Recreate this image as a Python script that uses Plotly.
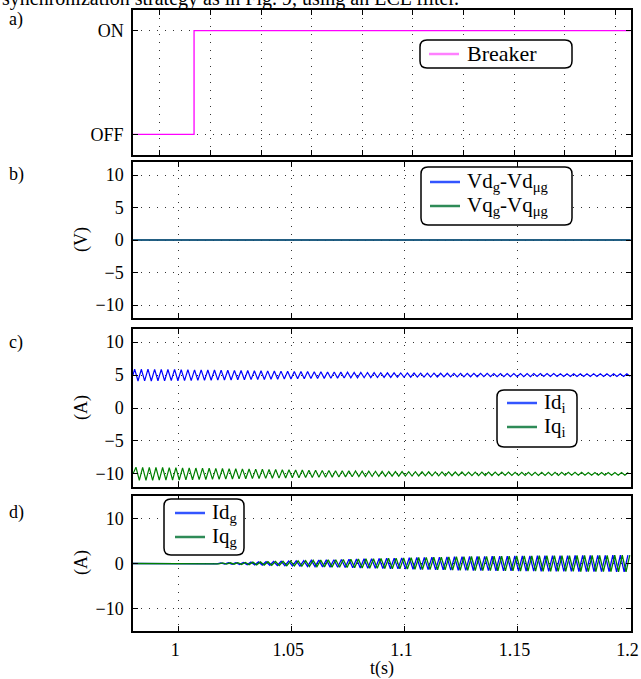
import numpy as np
import plotly.graph_objects as go

W, H = 641, 679
FONT = "Liberation Serif, Times New Roman, serif"

# ---------------- data ----------------
T_START, T_END = 0.98, 1.2
# a) breaker
BRK_T = [0.98, 1.007, 1.007, 1.2]
BRK_V = [0, 0, 1, 1]
# b) voltage differences (flat zero)
VD_T = [0.98, 1.2]
VD_V = [0.0, 0.0]
VQ_T = [0.98, 1.2]
VQ_V = [0.0, 0.0]
# c) inverter currents: mean values and per-cycle oscillation amplitudes
IDI_MEAN = 5.0
IQI_MEAN = -10.0
IC_FREQ = 340.0
IDI_AMP = [0.90, 0.88, 0.90, 0.86, 0.87, 0.85, 0.86, 0.83, 0.84, 0.80, 0.80, 0.78, 0.77, 0.75,
           0.74, 0.72, 0.70, 0.69, 0.67, 0.66, 0.64, 0.62, 0.60, 0.58, 0.56, 0.55, 0.53, 0.51,
           0.50, 0.48, 0.46, 0.45, 0.43, 0.42, 0.40, 0.39, 0.37, 0.36, 0.35, 0.34, 0.33, 0.32,
           0.31, 0.30, 0.30, 0.29, 0.28, 0.28, 0.27, 0.27, 0.26, 0.26, 0.25, 0.25, 0.24, 0.24,
           0.24, 0.23, 0.23, 0.23, 0.22, 0.22, 0.22, 0.22, 0.21, 0.21, 0.21, 0.21, 0.20, 0.20,
           0.20, 0.20, 0.20, 0.20, 0.20]
IQI_AMP = [1.00, 0.98, 0.99, 0.96, 0.96, 0.94, 0.94, 0.91, 0.90, 0.88, 0.87, 0.85, 0.83, 0.81,
           0.79, 0.77, 0.75, 0.73, 0.71, 0.69, 0.67, 0.65, 0.63, 0.61, 0.59, 0.57, 0.55, 0.53,
           0.51, 0.50, 0.48, 0.46, 0.45, 0.43, 0.42, 0.40, 0.39, 0.38, 0.36, 0.35, 0.34, 0.33,
           0.32, 0.31, 0.31, 0.30, 0.29, 0.29, 0.28, 0.28, 0.27, 0.27, 0.26, 0.26, 0.25, 0.25,
           0.25, 0.24, 0.24, 0.24, 0.23, 0.23, 0.23, 0.23, 0.22, 0.22, 0.22, 0.22, 0.21, 0.21,
           0.21, 0.21, 0.21, 0.21, 0.21]
# d) grid currents: oscillation begins after breaker closes
IG_START = 1.008
IG_FREQ = 300.0
IDG_AMP = [0.02, 0.05, 0.08, 0.12, 0.16, 0.20, 0.25, 0.30, 0.35, 0.40, 0.45, 0.50, 0.55, 0.60,
           0.65, 0.70, 0.75, 0.80, 0.85, 0.90, 0.95, 1.00, 1.04, 1.08, 1.12, 1.16, 1.20, 1.24,
           1.28, 1.32, 1.36, 1.40, 1.43, 1.46, 1.49, 1.52, 1.55, 1.57, 1.59, 1.61, 1.63, 1.65,
           1.67, 1.69, 1.70, 1.72, 1.73, 1.75, 1.76, 1.77, 1.78, 1.79, 1.80, 1.81, 1.82, 1.83,
           1.84, 1.85]
IQG_AMP = IDG_AMP

# tick labels
A_TICKVALS = [0, 1]
A_TICKTEXT = ["OFF", "ON"]
A_XGRID = [0.9916, 1.0142, 1.0366, 1.059, 1.0814, 1.1038, 1.1262, 1.1486, 1.171, 1.1934]
X_TICKS = [1.0, 1.05, 1.1, 1.15, 1.2]
X_TICKTEXT = ["1", "1.05", "1.1", "1.15", "1.2"]
BC_TICKS = [-10, -5, 0, 5, 10]
D_TICKS = [-10, 0, 10]

BLUE = "#0000ff"
GREEN = "#008000"
MAGENTA = "#ff00ff"


def osc(t0, freq, mean, amps, shift=0.0, t_before=None):
    """Zig-zag through the extremes of each cycle."""
    p = 1.0 / freq
    ts, vs = [], []
    if t_before is not None:
        ts.append(t_before)
        vs.append(mean)
    ts.append(t0)
    vs.append(mean)
    for k, a in enumerate(amps):
        base = t0 + k * p + shift * p
        ts += [base + p / 4, base + 3 * p / 4]
        vs += [mean + a, mean - a]
    ts = np.array(ts)
    vs = np.array(vs)
    m = ts <= T_END
    return ts[m], vs[m]


def px(x):
    return x / W


def py(y):
    return 1 - y / H


fig = go.Figure()

# a)
fig.add_trace(go.Scatter(x=BRK_T, y=BRK_V, mode="lines", line=dict(color=MAGENTA, width=1.3),
                         xaxis="x", yaxis="y", showlegend=False, name="Breaker"))
# b)
fig.add_trace(go.Scatter(x=VD_T, y=VD_V, mode="lines", line=dict(color=BLUE, width=1.3),
                         xaxis="x2", yaxis="y2", showlegend=False))
fig.add_trace(go.Scatter(x=VQ_T, y=VQ_V, mode="lines", line=dict(color="#1a6a5a", width=1.3),
                         xaxis="x2", yaxis="y2", showlegend=False))
# c)
t1, v1 = osc(T_START, IC_FREQ, IDI_MEAN, IDI_AMP)
t2, v2 = osc(T_START, IC_FREQ, IQI_MEAN, IQI_AMP, shift=0.2)
fig.add_trace(go.Scatter(x=t1, y=v1, mode="lines", line=dict(color=BLUE, width=1.2),
                         xaxis="x3", yaxis="y3", showlegend=False))
fig.add_trace(go.Scatter(x=t2, y=v2, mode="lines", line=dict(color=GREEN, width=1.2),
                         xaxis="x3", yaxis="y3", showlegend=False))
# d)
t3, v3 = osc(IG_START, IG_FREQ, 0.0, IDG_AMP, t_before=T_START)
t4, v4 = osc(IG_START, IG_FREQ, 0.0, IQG_AMP, shift=0.25, t_before=T_START)
fig.add_trace(go.Scatter(x=t3, y=v3, mode="lines", line=dict(color=BLUE, width=1.3),
                         xaxis="x4", yaxis="y4", showlegend=False))
fig.add_trace(go.Scatter(x=t4, y=v4, mode="lines", line=dict(color=GREEN, width=1.3),
                         xaxis="x4", yaxis="y4", showlegend=False))

X0, X1 = 133, 631
PANELS = [(10, 155), (162, 318), (329, 487), (496, 631)]

grid = dict(showgrid=True, gridcolor="#333333", gridwidth=1, griddash="1px,7px")
axis_common = dict(showline=True, linecolor="black", linewidth=1.5, mirror="ticks",
                   ticks="inside", ticklen=5, tickcolor="black", zeroline=False, automargin=False,
                   tickfont=dict(family=FONT, size=18, color="black"), **grid)

layout = dict(width=W, height=H, margin=dict(l=0, r=0, t=0, b=0, autoexpand=False),
              plot_bgcolor="white", paper_bgcolor="white", font=dict(family=FONT, color="black"))

yranges = [[-0.2, 1.2], [-12, 12], [-12, 12], [-15, 15]]
for i, (top, bot) in enumerate(PANELS):
    sfx = "" if i == 0 else str(i + 1)
    xa = dict(domain=[px(X0), px(X1)], range=[T_START, T_END + 0.0002], anchor="y" + sfx,
              tickvals=X_TICKS, ticktext=X_TICKTEXT, showticklabels=(i == 3),
              ticklabelstandoff=2, ticklabelshift=-3, **axis_common)
    if i == 0:
        xa["tickvals"] = A_XGRID
    ya = dict(domain=[py(bot), py(top)], range=yranges[i], anchor="x" + sfx,
              ticklabelstandoff=4, **axis_common)
    if i == 0:
        ya.update(tickvals=A_TICKVALS, ticktext=A_TICKTEXT)
    elif i in (1, 2):
        ya.update(tickvals=BC_TICKS)
    else:
        ya.update(tickvals=D_TICKS)
    layout["xaxis" + sfx] = xa
    layout["yaxis" + sfx] = ya

fig.update_layout(**layout)

ann = []
# caption fragment at the top (cut off)
ann.append(dict(text="synchronization strategy as in Fig. 9, using an LCL filter.", x=px(0), y=py(-2),
                xref="paper", yref="paper", xanchor="left", yanchor="middle", showarrow=False,
                font=dict(family=FONT, size=20)))
for lab, yy in [("a)", 19), ("b)", 175), ("c)", 342), ("d)", 512)]:
    ann.append(dict(text=lab, x=px(7), y=py(yy), xref="paper", yref="paper", xanchor="left",
                    yanchor="middle", showarrow=False, font=dict(family=FONT, size=18)))
for lab, yy in [("(V)", 240), ("(A)", 408), ("(A)", 563)]:
    ann.append(dict(text=lab, x=px(81), y=py(yy), xref="paper", yref="paper", xanchor="center",
                    yanchor="middle", textangle=-90, showarrow=False, font=dict(family=FONT, size=18)))
ann.append(dict(text="t(s)", x=px(382), y=py(668), xref="paper", yref="paper", xanchor="center",
                yanchor="middle", showarrow=False, font=dict(family=FONT, size=18)))

shapes = []


def rrect(x0, y0, x1, y1, r=7):
    rx, ry = r / W, r / H
    X0p, X1p, Y0p, Y1p = px(x0), px(x1), py(y0), py(y1)  # Y0p top
    path = (f"M {X0p+rx},{Y0p} L {X1p-rx},{Y0p} Q {X1p},{Y0p} {X1p},{Y0p-ry} "
            f"L {X1p},{Y1p+ry} Q {X1p},{Y1p} {X1p-rx},{Y1p} L {X0p+rx},{Y1p} "
            f"Q {X0p},{Y1p} {X0p},{Y1p+ry} L {X0p},{Y0p-ry} Q {X0p},{Y0p} {X0p+rx},{Y0p} Z")
    return dict(type="path", path=path, xref="paper", yref="paper",
                line=dict(color="black", width=1.5), fillcolor="white", layer="above")


def legend(box, items, lx0, lx1, tx, fs):
    shapes.append(rrect(*box))
    for yy, color, text in items:
        shapes.append(dict(type="line", x0=px(lx0), x1=px(lx1), y0=py(yy), y1=py(yy),
                           xref="paper", yref="paper", line=dict(color=color, width=2.5), layer="above"))
        ann.append(dict(text=text, x=px(tx), y=py(yy), xref="paper", yref="paper", xanchor="left",
                        yanchor="middle", showarrow=False, font=dict(family=FONT, size=fs)))


legend((420, 40, 572, 68), [(54, "#ff80ff", "Breaker")], 429, 459, 465, 22)
legend((421, 167, 572, 225), [(182, "#3355ff", "Vd<sub>g</sub>-Vd<sub>μg</sub>"),
                              (206, "#2e8b57", "Vq<sub>g</sub>-Vq<sub>μg</sub>")], 430, 460, 465, 21)
legend((497, 390, 577, 447), [(403, "#3355ff", "Id<sub>i</sub>"),
                              (427, "#2e8b57", "Iq<sub>i</sub>")], 507, 537, 542, 21)
legend((164, 499, 244, 555), [(513, "#3355ff", "Id<sub>g</sub>"),
                              (537, "#2e8b57", "Iq<sub>g</sub>")], 175, 205, 210, 21)

fig.update_layout(annotations=ann, shapes=shapes)
fig.write_html("out.html", config={"displayModeBar": False},
               post_script="document.body.style.margin='0';document.body.style.overflow='hidden';")
